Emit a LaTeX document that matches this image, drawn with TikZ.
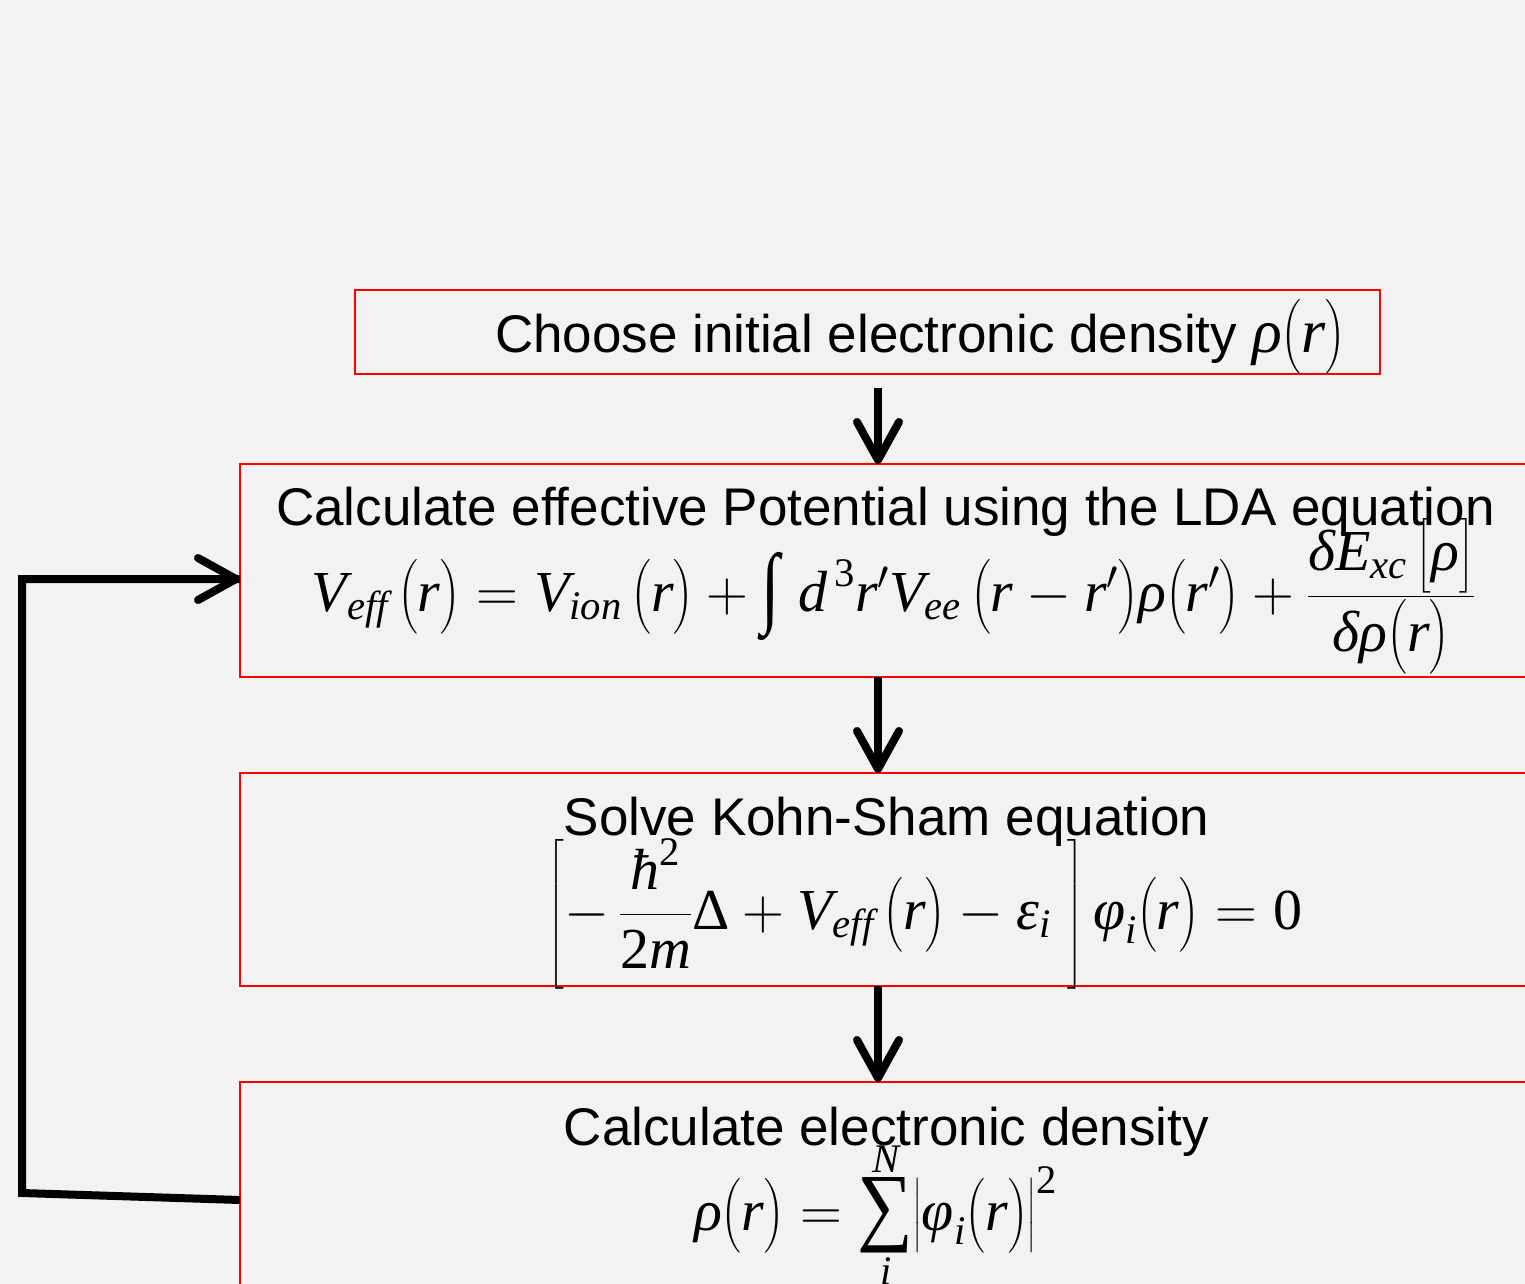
\RequirePackage{fix-cm}
\documentclass[tikz,border=0pt]{standalone}
\usepackage{fontspec}
\usepackage{amsmath}
\usepackage{graphicx}
\setmainfont{Liberation Sans}
\newfontfamily\tmr{Liberation Serif}
\newcommand{\mi}[1]{\textnormal{\tmr\itshape #1}}
\newcommand{\mr}[1]{\textnormal{\tmr #1}}
\newcommand{\bigint}{\mathop{\vcenter{\hbox{\scalebox{1.15}[1.55]{\tmr ∫}}}}\nolimits\,}
\newcommand{\bigsum}{\mathop{\vcenter{\hbox{\scalebox{1.35}[1.5]{\tmr ∑}}}}\limits}
\usetikzlibrary{arrows.meta}
\definecolor{bgc}{HTML}{F2F2F2}
\tikzset{
  box/.style={draw=red,line width=1.6pt,inner sep=0pt,outer sep=0pt},
  lbl/.style={inner sep=0pt,outer sep=0pt,font=\fontsize{53}{64}\selectfont},
  eqn/.style={inner sep=0pt,outer sep=0pt,font=\fontsize{58}{69}\selectfont},
  arr/.style={line width=8pt,-{Straight Barb[length=38pt,width=42pt,round]}},
  fb/.style={line width=8pt}
}
\begin{document}
\begin{tikzpicture}[x=1pt,y=-1pt]
\useasboundingbox (0,0) rectangle (1525,1284);
\fill[bgc] (0,0) rectangle (1525,1284);
\clip (0,0) rectangle (1525,1284);
% boxes
\node[box,minimum width=1025pt,minimum height=84pt] (b1) at (867.5,332) {};
\node[box,minimum width=1290pt,minimum height=213pt] (b2) at (885,570.5) {};
\node[box,minimum width=1290pt,minimum height=213pt] (b3) at (885,879.5) {};
\node[box,minimum width=1290pt,minimum height=218pt] (b4) at (885,1191) {};
% texts
\node[lbl,anchor=base west] (t1) at (495,352) {Choose initial electronic density {\fontsize{62}{72}\selectfont$\mi{ρ}\bigl(\mi{r}\bigr)$}};
\node[lbl,anchor=base west] (t2) at (276,525) {Calculate effective Potential using the LDA equation};
\node[eqn,anchor=base] (e2) at (893.5,611) {$\mi{V}_{\mi{eff}}\,\bigl(\mi{r}\bigr)=\mi{V}_{\mi{ion}}\,\bigl(\mi{r}\bigr)+\bigint\mi{d}^{\,\mr{3}}\mi{r}'\mi{V}_{\mi{ee}}\,\bigl(\mi{r}-\mi{r}'\bigr)\mi{ρ}\bigl(\mi{r}'\bigr)+\dfrac{\mi{δE}_{\mi{xc}}\,\bigl[\mi{ρ}\bigr]}{\mi{δρ}\bigl(\mi{r}\bigr)}$};
\node[lbl,anchor=base] (t3) at (886.5,835) {Solve Kohn-Sham equation};
\node[eqn,anchor=base] (e3) at (925,929) {$\left[-\,\dfrac{\mi{ħ}^{\mr{2}}}{\mr{2}\mi{m}}\mr{Δ}+\mi{V}_{\mi{eff}}\,\bigl(\mi{r}\bigr)-\mi{ε}_{\mi{i}}\;\right]\mi{φ}_{\mi{i}}\bigl(\mi{r}\bigr)=\mr{0}$};
\node[lbl,anchor=base] (t4) at (886.5,1145) {Calculate electronic density};
\node[eqn,anchor=base] (e4) at (875.5,1230) {$\mi{ρ}\bigl(\mi{r}\bigr)=\bigsum_{\mi{i}}^{\mi{N}}\bigl|\mi{φ}_{\mi{i}}\bigl(\mi{r}\bigr)\bigr|^{\mr{2}}$};
% arrows
\coordinate (ax) at (878,0);
\draw[arr] ([yshift=-14pt]b1.south -| ax) -- (b2.north -| ax);
\draw[arr] (b2.south -| ax) -- (b3.north -| ax);
\draw[arr] (b3.south -| ax) -- (b4.north -| ax);
% feedback loop
\coordinate (c1) at (22,1193);
\coordinate (c2) at (22,579);
\draw[fb] ([yshift=-9pt]b4.west) -- (c1) -- (c2) -- ([yshift=-8.5pt]b2.west);
\draw[arr] ([xshift=-60pt,yshift=-8.5pt]b2.west) -- ([yshift=-8.5pt]b2.west);
\end{tikzpicture}
\end{document}
